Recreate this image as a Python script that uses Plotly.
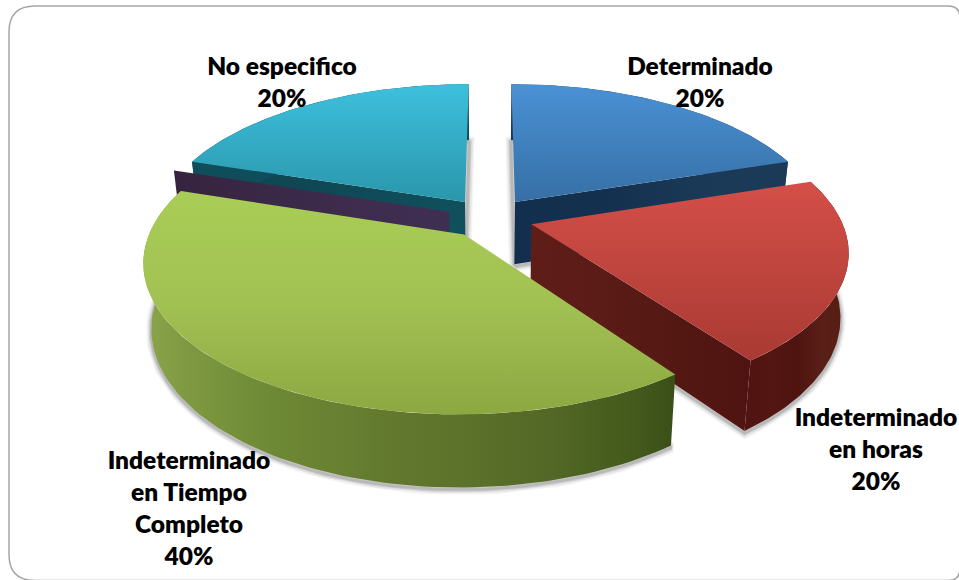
import math
import plotly.graph_objects as go

# Chart content
categories = ["Determinado", "Indeterminado<br>en horas", "Indeterminado<br>en Tiempo<br>Completo", "", "No especifico"]
values = [20, 20, 40, 0, 20]

# Label anchors: centre x and y of the first line
label_x = [700, 876, 189, 0, 282]
label_y = [66, 417, 460, 0, 66]
LINE_STEP = 32

# Pie geometry
CX, CY = 490, 218
RX, RY = 309, 143
DEPTH = 63
PERSP = 0.17
TAPER = 0.023
EXPLODE = 0.14

# Colour stops per slice (top face runs top to bottom, walls left to right)
top_colors = [
    ["#4a91d5", "#366fa5"],
    ["#d44f48", "#a93a33"],
    ["#a9cd56", "#a2c153", "#8ca842"],
    ["#3d2d50", "#3d2d50"],
    ["#3dc0dd", "#2a96ab"],
]
rim_colors = [
    ["#1b3a58", "#1b3a58"],
    ["#4f1411", "#541612", "#4e1410", "#5a1f17", "#561c14"],
    ["#8aa54a", "#7f9a42", "#76923b", "#6f8a36", "#6a8433", "#667f31", "#62792e", "#5f752c",
     "#5c712a", "#576c28", "#536826", "#4a6020", "#435a1c", "#3a4f18"],
    ["#3d2d50", "#3d2d50"],
    ["#0f4d5a", "#0f4d5a"],
]
edge_colors = [
    ["#132f4e", "#14304f", "#1a3957", "#1c3c5a"],
    ["#5f1d18", "#5b1b16", "#541813", "#4f1411"],
    ["#3a4f18", "#3a4f18"],
    ["#3e2f52", "#3f2c4e", "#3a2847", "#35233f"],
    ["#10505d", "#0f4b58", "#0f4753", "#0d434e"],
]


def project(x, y, z):
    w = 1 / (1 + PERSP * y)
    t = 1 + TAPER * z
    return CX + RX * x * w * t, CY - RY * y * w * t - DEPTH * z * w


def polar(a):
    return math.sin(a), math.cos(a)


def arc(a, b, n=90):
    return [a + (b - a) * i / n for i in range(n + 1)]


def path(points):
    xs, ys = zip(*points)
    return list(xs), list(ys)


def scale(stops):
    n = len(stops) - 1
    return [[i / n, c] for i, c in enumerate(stops)]


fig = go.Figure()


def add_fill(points, stops, orient):
    xs, ys = path(points)
    # The y axis is flipped, so vertical gradients run from the lowest pixel row up
    ordered = stops[::-1] if orient == "vertical" else stops
    fig.add_trace(go.Scatter(
        x=xs + xs[:1], y=ys + ys[:1], mode="lines", line=dict(width=0),
        fill="toself", fillgradient=dict(type=orient, colorscale=scale(ordered)),
        hoverinfo="skip", showlegend=False,
    ))


total = sum(values)
spans = []
start = 0.0
for v in values:
    end = start + v / total * 2 * math.pi
    spans.append((start, end))
    start = end

offsets = []
for (a, b) in spans:
    ox, oy = polar((a + b) / 2)
    offsets.append((ox * EXPLODE, oy * EXPLODE))

# Soft drop shadows taken from each slice's lower outline
for (a, b), (ox, oy), v in zip(spans, offsets, values):
    if v == 0:
        continue
    lower = [project(ox, oy, -1)] + [project(ox + polar(t)[0], oy + polar(t)[1], -1) for t in arc(a, b)]
    lower.append(lower[0])
    xs, ys = path(lower)
    for width, alpha in [(11, 0.05), (8, 0.07), (5, 0.10), (3, 0.12)]:
        fig.add_trace(go.Scatter(
            x=xs, y=[y + 2 for y in ys], mode="lines",
            line=dict(width=width, color=f"rgba(30,30,30,{alpha})"),
            hoverinfo="skip", showlegend=False,
        ))

# Back slices first, then the ones closer to the viewer
for i in [0, 4, 3, 1, 2]:
    a, b = spans[i]
    ox, oy = offsets[i]

    # Radial side wall, only where it faces forward
    for ang, visible in ((a, math.sin(a) < -1e-6), (b, math.sin(b) > 1e-6)):
        if visible:
            rx, ry = polar(ang)
            leftward = project(ox + rx, oy + ry, 0)[0] < project(ox, oy, 0)[0]
            add_fill([
                project(ox, oy, 0), project(ox + rx, oy + ry, 0),
                project(ox + rx, oy + ry, -1), project(ox, oy, -1),
            ], edge_colors[i][::-1] if leftward else edge_colors[i], "horizontal")

    if values[i] == 0:
        continue

    # Curved outer wall
    ts = arc(a, b)
    upper = [project(ox + polar(t)[0], oy + polar(t)[1], 0) for t in ts]
    lower = [project(ox + polar(t)[0], oy + polar(t)[1], -1) for t in ts]
    add_fill(upper + lower[::-1], rim_colors[i], "horizontal")

    # Top face
    add_fill([project(ox, oy, 0)] + upper, top_colors[i], "vertical")

# Slice labels, one text per line so the spacing stays even
for cat, v, lx, ly in zip(categories, values, label_x, label_y):
    if v == 0:
        continue
    lines = cat.split("<br>") + [f"{v / total:.0%}"]
    fig.add_trace(go.Scatter(
        x=[lx] * len(lines), y=[ly + 3 + LINE_STEP * k for k in range(len(lines))],
        mode="text", text=lines, textposition="middle center",
        textfont=dict(family="Lato", size=24.5, color="#000000", weight=800),
        hoverinfo="skip", showlegend=False, cliponaxis=False,
    ))

# Rounded frame; its right and bottom edges run just past the page
L, T, R_, B, CL, CR = 9, 6, 960, 580.5, 26, 12
frame = (
    f"M {L + CL} {T} L {R_ - CR} {T} Q {R_} {T} {R_} {T + CR} L {R_} {B - CR} "
    f"Q {R_} {B} {R_ - CR} {B} L {L + CL} {B} Q {L} {B} {L} {B - CL} L {L} {T + CL} Q {L} {T} {L + CL} {T} Z"
)

fig.update_layout(
    width=959, height=580, margin=dict(l=0, r=0, t=0, b=0),
    paper_bgcolor="white", plot_bgcolor="white",
    xaxis=dict(range=[0, 959], visible=False, fixedrange=True),
    yaxis=dict(range=[580, 0], visible=False, fixedrange=True),
    shapes=[dict(type="path", path=frame, line=dict(color="#a6a6a6", width=1.5), layer="below")],
)

fig.write_html("out.html", config=dict(displayModeBar=False))
